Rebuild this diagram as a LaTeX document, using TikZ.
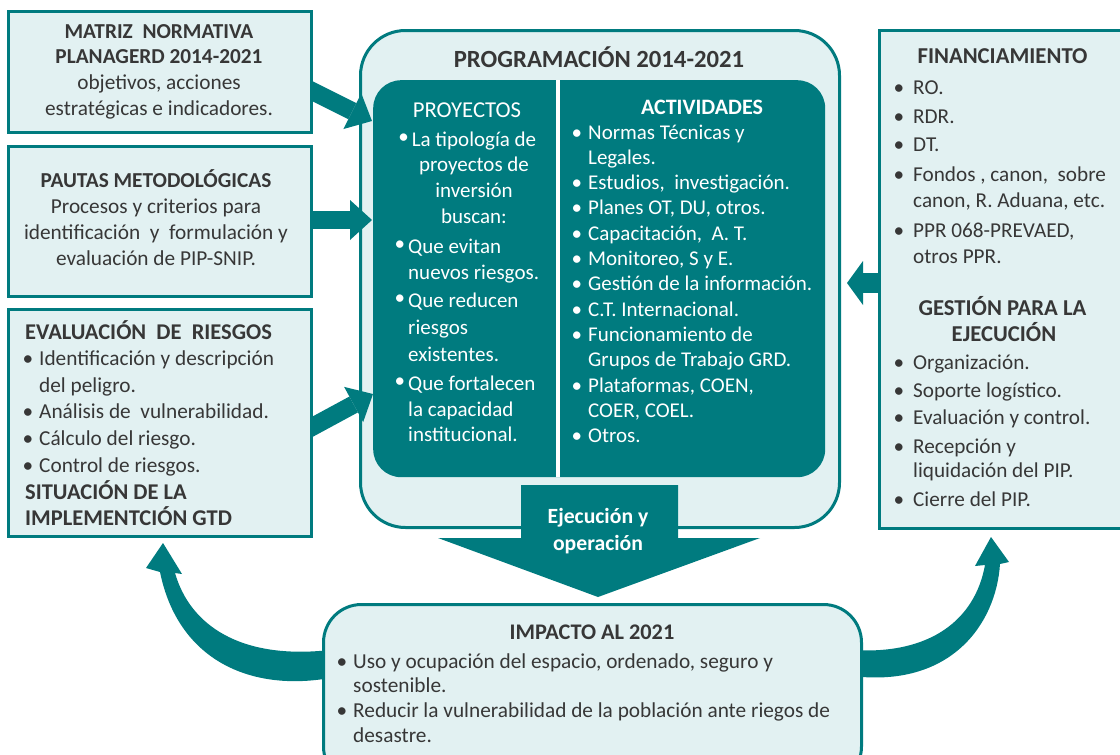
\documentclass[tikz,border=0pt]{standalone}
\usepackage{fontspec}
\setmainfont{Carlito}
\usetikzlibrary{arrows.meta}

\definecolor{petroleo}{RGB}{0,123,127}
\definecolor{celeste}{RGB}{226,241,242}
\definecolor{grisoscuro}{RGB}{55,55,55}

\newcommand{\punto}{\llap{\textbullet\hspace{6pt}}}
\newcommand{\puntoalto}{\llap{\raisebox{3pt}{\textbullet}\hspace{3pt}}}
\newcommand{\puntofin}{\llap{\textbullet\hspace{9pt}}}

\tikzset{
  caja/.style={draw=petroleo, fill=celeste, line width=3pt, inner sep=0, anchor=north west},
  linea/.style={inner sep=0, text=grisoscuro, font=\fontsize{21.3}{21}\selectfont},
  negrita/.style={linea, font=\bfseries\fontsize{22.5}{22}\selectfont},
  blanca/.style={inner sep=0, text=white, font=\fontsize{21}{21}\selectfont},
  flecha/.style={petroleo, line width=18pt, -{Triangle[length=22pt, width=40pt, line width=0pt]}},
}

\begin{document}
\begin{tikzpicture}[x=1pt, y=-1pt]
\useasboundingbox (0,0) rectangle (1120,755);
\clip (0,0) rectangle (1120,755);

% programacion
\node[caja, rounded corners=45pt, minimum width=479pt, minimum height=497pt] (prog) at (359,29) {};
\node[anchor=north west, fill=petroleo, rounded corners=28pt, inner sep=0,
      minimum width=452pt, minimum height=397pt] (interior) at (373,80) {};
\draw[white, line width=4pt] (557.5,80) -- (557.5,477);
\node[negrita, font=\bfseries\fontsize{24.7}{24}\selectfont, anchor=base] (progtit) at (599,67) {PROGRAMACIÓN 2014-2021};

% proyectos
\node[blanca, font=\fontsize{22.7}{22}\selectfont, anchor=base] (proytit) at (467,117) {PROYECTOS};
\foreach \t [count=\i from 0] in {{\puntoalto La tipología de},{proyectos de},{inversión},{buscan:}}
  \node[blanca, anchor=base] (proy\i) at (474,146+25.7*\i) {\t};
\foreach \y/\t [count=\i] in {253/{\puntoalto Que evitan}, 279/{nuevos riesgos.}, 307/{\puntoalto Que reducen},
    334/{riesgos}, 361/{existentes.}, 390/{\puntoalto Que fortalecen}, 416/{la capacidad}, 441/{institucional.}}
  \node[blanca, anchor=base west] (busca\i) at (408,\y) {\t};

% actividades
\node[blanca, font=\bfseries\fontsize{22}{22}\selectfont, anchor=base] (acttit) at (702,114) {ACTIVIDADES};
\foreach \t [count=\i from 0] in {{\punto Normas Técnicas y},{Legales.},{\punto Estudios,\ \ investigación.},
    {\punto Planes OT, DU, otros.},{\punto Capacitación,\ \ A. T.},{\punto Monitoreo, S y E.},
    {\punto Gestión de la información.},{\punto C.T. Internacional.},{\punto Funcionamiento de},
    {Grupos de Trabajo GRD.},{\punto Plataformas, COEN,},{COER, COEL.},{\punto Otros.}}
  \node[blanca, anchor=base west] (act\i) at (588,139+25.33*\i) {\t};

% ejecucion
\fill[petroleo] (521,485) -- (678,485) -- (678,538) -- (760,538) -- (598,597) -- (438,538) -- (521,538) -- cycle;
\node[blanca, font=\bfseries\fontsize{21.7}{21}\selectfont, anchor=base] (ejec1) at (598,523) {Ejecución y};
\node[blanca, font=\bfseries\fontsize{21.7}{21}\selectfont, anchor=base] (ejec2) at (598,550) {operación};

% flechas de entrada
\coordinate (t1) at (372,121);
\coordinate (t3) at (373,394);
\coordinate (t4) at (847,283);
\draw[flecha] (300,85) -- (t1);
\draw[flecha] (300,220) -- (t1 |- 0,220);
\draw[flecha] (300,433.5) -- (t3);
\draw[flecha, line width=20pt, -{Triangle[length=16pt, width=44pt, line width=0pt]}] (890,283) -- (t4);

% cajas izquierda
\node[caja, minimum width=303pt, minimum height=121pt] (matriz) at (7,10) {};
\node[caja, minimum width=303pt, minimum height=150pt] (pautas) at (7,145) {};
\node[caja, minimum width=303pt, minimum height=227pt] (evalr) at (7,308) {};

\foreach \t [count=\i from 0] in {{\textbf{MATRIZ\ \ NORMATIVA}},{\textbf{PLANAGERD 2014-2021}},
    {objetivos, acciones},{estratégicas e indicadores.}}
  \node[linea, anchor=base] (mat\i) at (159,38+25.7*\i) {\t};
\foreach \t [count=\i from 0] in {{\textbf{PAUTAS METODOLÓGICAS}},{Procesos y criterios para},
    {identificación\ \ y\ \ formulación y},{evaluación de PIP-SNIP.}}
  \node[linea, anchor=base] (pau\i) at (156,187+26*\i) {\t};

\node[negrita, anchor=base west] (evaltit) at (25,339) {EVALUACIÓN\ \ DE\ \ RIESGOS};
\foreach \t [count=\i] in {{\punto Identificación y descripción},{del peligro.},
    {\punto Análisis de\ \ vulnerabilidad.},{\punto Cálculo del riesgo.},{\punto Control de riesgos.}}
  \node[linea, anchor=base west] (eval\i) at (39,339+26.6*\i) {\t};
\node[negrita, anchor=base west] (sit1) at (25,499) {SITUACIÓN DE LA};
\node[negrita, anchor=base west] (sit2) at (25,525) {IMPLEMENTCIÓN GTD};

% caja derecha
\node[caja, minimum width=250pt, minimum height=498pt] (finan) at (878,29) {};
\node[negrita, font=\bfseries\fontsize{22.7}{22}\selectfont, anchor=base] (fintit) at (1002.5,63) {FINANCIAMIENTO};
\foreach \y/\t [count=\i] in {94/{\puntofin RO.}, 123/{\puntofin RDR.}, 151/{\puntofin DT.},
    181/{\puntofin Fondos , canon,\ \ sobre}, 207/{canon, R. Aduana, etc.},
    237/{\puntofin PPR 068-PREVAED,}, 263/{otros PPR.}}
  \node[linea, font=\fontsize{21.2}{21}\selectfont, anchor=base west] (fin\i) at (913,\y) {\t};
\node[negrita, font=\bfseries\fontsize{22.7}{22}\selectfont, anchor=base] (gestit1) at (1002.5,315) {GESTIÓN PARA LA};
\node[negrita, font=\bfseries\fontsize{22.7}{22}\selectfont, anchor=base] (gestit2) at (1004,341) {EJECUCIÓN};
\foreach \y/\t [count=\i] in {369/{\puntofin Organización.}, 397/{\puntofin Soporte logístico.},
    424/{\puntofin Evaluación y control.}, 453/{\puntofin Recepción y}, 477/{liquidación del PIP.},
    506/{\puntofin Cierre del PIP.}}
  \node[linea, font=\fontsize{21.2}{21}\selectfont, anchor=base west] (ges\i) at (913,\y) {\t};

% flechas curvas
\fill[petroleo] (330,678) .. controls (250,692) and (178,660) .. (160,572)
  -- (146,568) -- (163,543) -- (182,574) -- (175,573)
  .. controls (190,625) and (240,660) .. (330,650) -- cycle;
\fill[petroleo] (852,676) .. controls (950,688) and (996,625) .. (1000,564)
  -- (1009,562) -- (991,537) -- (975,566) -- (985,565)
  .. controls (975,620) and (930,655) .. (852,650) -- cycle;

% impacto
\node[caja, rounded corners=38pt, minimum width=538pt, minimum height=180pt] (impacto) at (322,603) {};
\node[negrita, font=\bfseries\fontsize{22.3}{22}\selectfont, anchor=base] (imptit) at (592,639) {IMPACTO AL 2021};
\foreach \y/\t [count=\i] in {668/{\punto Uso y ocupación del espacio, ordenado, seguro y}, 692/{sostenible.},
    717/{\punto Reducir la vulnerabilidad de la población ante riegos de}, 742/{desastre.}}
  \node[linea, anchor=base west] (imp\i) at (353,\y) {\t};

\end{tikzpicture}
\end{document}
